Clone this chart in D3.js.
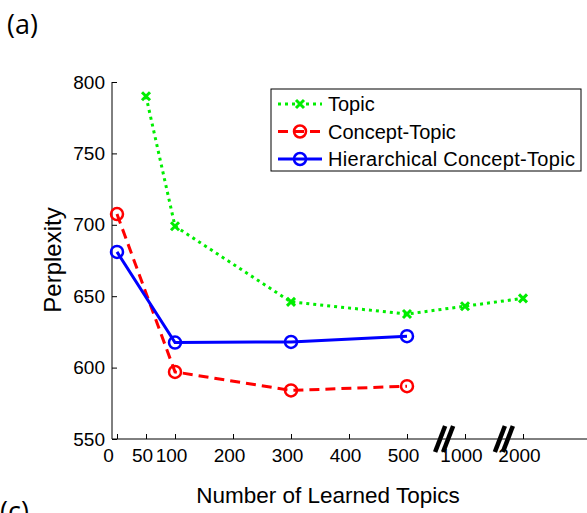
<!DOCTYPE html>
<html><head><meta charset="utf-8">
<script src="https://cdn.jsdelivr.net/npm/d3@7"></script>
<style>body{margin:0;background:#fff}svg{display:block}text{font-family:"Liberation Sans",Arial,sans-serif}</style>
</head><body>
<script>
// axis positions (linear, with broken scale beyond 500)
const xTickPos = [0, 50, 100, 200, 300, 400, 500, 600, 700];
const xTickLabels = ["0", "50", "100", "200", "300", "400", "500", "1000", "2000"];
const yTicks = [550, 600, 650, 700, 750, 800];
const breakPos = [564, 667];

const seriesNames = ["Topic", "Concept-Topic", "Hierarchical Concept-Topic"];
const topicX = [50, 100, 300, 500, 600, 700];
const topicY = [790, 699, 646, 637.5, 643, 648.5];
const conceptX = [0, 100, 300, 500];
const conceptY = [707.5, 597, 584, 587];
const hierX = [0, 100, 300, 500];
const hierY = [681, 617.5, 618, 622];

const W = 587, H = 513;
const svg = d3.select("body").append("svg").attr("width", W).attr("height", H);
const x = d3.scaleLinear().domain([0, 700]).range([117, 523]);
const y = d3.scaleLinear().domain([550, 800]).range([439, 82]);

// y axis
const yAx = svg.append("g").attr("transform", "translate(112,0)")
  .call(d3.axisLeft(y).tickValues(yTicks).tickSize(-5).tickPadding(7).tickFormat(d3.format("d")));
yAx.select(".domain").remove();
yAx.append("line").attr("x1", 0).attr("x2", 0).attr("y1", 82).attr("y2", 439).attr("stroke", "#000");
yAx.selectAll(".tick line").attr("stroke", "#000");
yAx.selectAll(".tick text").attr("font-size", 19).attr("fill", "#000");

// x axis
const xAx = svg.append("g").attr("transform", "translate(0,439)")
  .call(d3.axisBottom(x).tickValues(xTickPos).tickSize(-5).tickPadding(7)
    .tickFormat((d, i) => xTickLabels[i]));
xAx.select(".domain").remove();
xAx.append("line").attr("x1", 112).attr("x2", W).attr("y1", 0).attr("y2", 0).attr("stroke", "#000");
xAx.selectAll(".tick line").attr("stroke", "#000");
xAx.selectAll(".tick text").attr("font-size", 19).attr("fill", "#000")
  .attr("dx", (d, i) => i === 0 ? -9 : -4).attr("dy", "0.85em");

// break marks
breakPos.forEach(p => {
  const cx = x(p), cy = 439;
  [-4, 4].forEach(o => {
    svg.append("line")
      .attr("x1", cx + o - 5).attr("y1", cy + 13)
      .attr("x2", cx + o + 5).attr("y2", cy - 13)
      .attr("stroke", "#000").attr("stroke-width", 4.5);
  });
});

const line = d3.line().x(d => x(d[0])).y(d => y(d[1]));
const series = [
  {xs: topicX, ys: topicY, color: "#00ee00", dash: "3,4", marker: "x"},
  {xs: conceptX, ys: conceptY, color: "#ff0000", dash: "10,6", marker: "o"},
  {xs: hierX, ys: hierY, color: "#0000ff", dash: null, marker: "o"}
];

function drawMarker(g, cx, cy, s) {
  if (s.marker === "o") {
    g.append("circle").attr("cx", cx).attr("cy", cy).attr("r", 6)
      .attr("fill", "none").attr("stroke", s.color).attr("stroke-width", 2.5);
  } else {
    const r = 4;
    g.append("path").attr("d", `M${cx - r},${cy - r}L${cx + r},${cy + r}M${cx - r},${cy + r}L${cx + r},${cy - r}`)
      .attr("stroke", s.color).attr("stroke-width", 3);
  }
}

series.forEach(s => {
  const pts = s.xs.map((v, i) => [v, s.ys[i]]);
  svg.append("path").attr("d", line(pts)).attr("fill", "none")
    .attr("stroke", s.color).attr("stroke-width", 3)
    .attr("stroke-dasharray", s.dash);
  const g = svg.append("g");
  pts.forEach(p => drawMarker(g, x(p[0]), y(p[1]), s));
});

// legend
const lg = svg.append("g");
lg.append("rect").attr("x", 271).attr("y", 89).attr("width", 310).attr("height", 82)
  .attr("fill", "#fff").attr("stroke", "#000").attr("stroke-width", 1);
series.forEach((s, i) => {
  const yy = 104 + i * 27.5;
  lg.append("line").attr("x1", 278).attr("x2", 322).attr("y1", yy).attr("y2", yy)
    .attr("stroke", s.color).attr("stroke-width", 3).attr("stroke-dasharray", s.dash);
  drawMarker(lg, 300, yy, s);
  lg.append("text").attr("x", 328).attr("y", yy).attr("dy", "0.36em")
    .attr("font-size", 20).attr("textLength", i === 2 ? 247 : null).text(seriesNames[i]);
});

// labels
svg.append("text").attr("transform", "translate(61,260) rotate(-90)")
  .attr("text-anchor", "middle").attr("font-size", 24).text("Perplexity");
svg.append("text").attr("x", 328).attr("y", 503).attr("text-anchor", "middle")
  .attr("font-size", 22.5).text("Number of Learned Topics");
svg.append("text").attr("x", 7).attr("y", 34).attr("font-size", 27)
  .style("font-family", "'Open Sans',sans-serif").text("(a)");
svg.append("text").attr("x", 0).attr("y", 521).attr("font-size", 27)
  .style("font-family", "'Open Sans',sans-serif").text("(c)");
</script>
</body></html>
